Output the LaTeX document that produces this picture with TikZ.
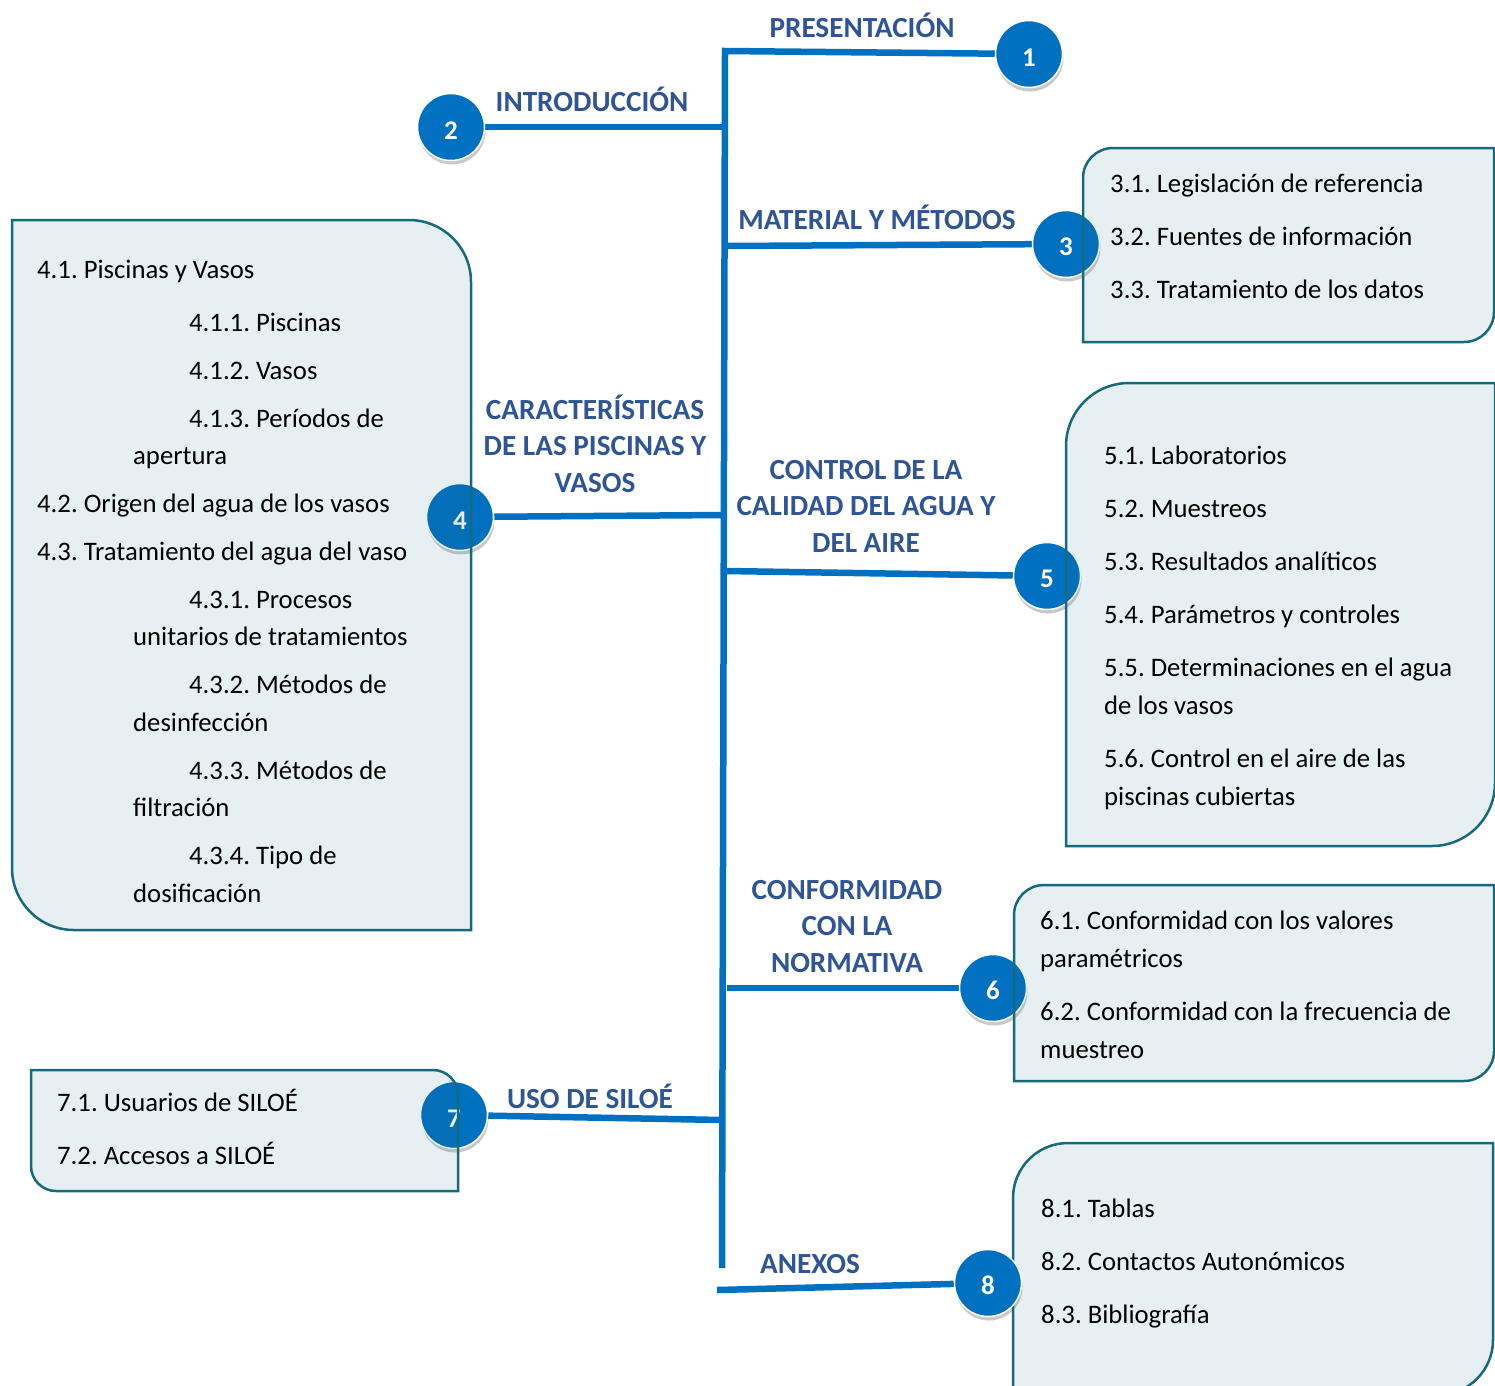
\documentclass[tikz,border=0pt]{standalone}
\usepackage{fontspec}
\setmainfont{Carlito}
\usepackage{tikz}
\usetikzlibrary{shadows, backgrounds}
\definecolor{trunkblue}{HTML}{0070C0}
\definecolor{headblue}{HTML}{2F5597}
\definecolor{boxteal}{HTML}{17697D}

% box, rounded top-left and bottom-right: style, x1, y1, x2, y2, radius
\newcommand{\boxTL}[6]{%
  \path[#1] (#2,#5) -- (#2,#3+#6) arc[start angle=180,end angle=270,radius=#6]
    -- (#4,#3) -- (#4,#5-#6) arc[start angle=0,end angle=90,radius=#6] -- cycle;}
% box, rounded top-right and bottom-left
\newcommand{\boxTR}[6]{%
  \path[#1] (#2,#3) -- (#4-#6,#3) arc[start angle=270,end angle=360,radius=#6]
    -- (#4,#5) -- (#2+#6,#5) arc[start angle=90,end angle=180,radius=#6] -- cycle;}

\begin{document}
\begin{tikzpicture}[
    x=1pt, y=-1pt,
    trunk/.style={line width=6.5pt, trunkblue},
    numcircle/.style={circle, fill=trunkblue, draw=white, line width=1.5pt, minimum size=67pt, inner sep=0pt, text=white, font=\fontsize{27}{27}\selectfont\bfseries, text height=24pt, drop shadow={shadow xshift=1pt, shadow yshift=-4pt, opacity=0.3, fill=black!70}},
    heading/.style={font=\fontsize{29.2}{36.3}\selectfont\bfseries, text=headblue, align=center, anchor=base, inner sep=0pt},
    boxline/.style={draw=boxteal, line width=2.5pt, fill=boxteal, fill opacity=0.11},
    boxtext/.style={font=\fontsize{26.7}{37.6}\selectfont\frenchspacing, align=left, anchor=base west, inner sep=0pt}
]
    \useasboundingbox (0,0) rectangle (1495,1385);

    % Box behind circle 8
    \boxTL{boxline}{1013}{1143}{1493}{1395}{55}

    % Circles
    \node[numcircle] (c1) at (1029,54) {1};
    \node[numcircle] (c2) at (451,127) {2};
    \node[numcircle] (c3) at (1066,244) {3};
    \node[numcircle] (c4) at (460,517) {4};
    \node[numcircle] (c5) at (1047,576) {5};
    \node[numcircle] (c6) at (993,988) {6};
    \node[numcircle] (c7) at (454,1115) {7};
    \node[numcircle] (c8) at (988,1283) {8};

    % Boxes
    \boxTL{boxline}{1083}{148}{1494}{342}{30}
    \boxTR{boxline}{12}{220}{471}{930}{62}
    \boxTL{boxline}{1066}{383}{1495}{846}{63}
    \boxTL{boxline}{1014}{885}{1494}{1081}{30}
    \boxTR{boxline}{31}{1070}{458}{1191}{25}

    % Trunk and branches
    \coordinate (t1) at (725,51);
    \coordinate (t2) at (724,127);
    \coordinate (t3) at (725,246);
    \coordinate (t4) at (724,515);
    \coordinate (t5) at (726,571);
    \coordinate (t6) at (727,988);
    \coordinate (t7) at (723,1120);
    \coordinate (t8) at (717,1290);
    \coordinate (tend) at (722,1268);
    \begin{scope}[on background layer]
        \draw[trunk] (c1) -- (t1) -- (tend);
        \draw[trunk] (c2) -- (t2);
        \draw[trunk] (t3) -- (c3);
        \draw[trunk] (c4) -- (t4);
        \draw[trunk] (t5) -- (c5);
        \draw[trunk] (t6) -- (c6);
        \draw[trunk] (c7) -- (t7);
        \draw[trunk] (t8) -- (c8);
    \end{scope}

    % Headings (anchor on the last line)
    \node[heading] (h1) at (862,37) {PRESENTACIÓN};
    \node[heading] (h2) at (592,111) {INTRODUCCIÓN};
    \node[heading] (h3) at (877,229) {MATERIAL Y MÉTODOS};
    \node[heading] (h4) at (595,492) {CARACTERÍSTICAS\\DE LAS PISCINAS Y\\VASOS};
    \node[heading] (h5) at (866,552) {CONTROL DE LA\\CALIDAD DEL AGUA Y\\DEL AIRE};
    \node[heading] (h6) at (847,972) {CONFORMIDAD\\CON LA\\NORMATIVA};
    \node[heading] (h7) at (590,1108) {USO DE SILOÉ};
    \node[heading] (h8) at (810,1273) {ANEXOS};

    % Box texts (anchor on the last line)
    \node[boxtext] (b3) at (1110,298) {3.1. Legislación de referencia\\[15.4pt]
        3.2. Fuentes de información\\[15.4pt]
        3.3. Tratamiento de los datos};
    \node[boxtext] (b4) at (37,902) {4.1. Piscinas y Vasos\\[16pt]
        \hspace*{152pt}4.1.1. Piscinas\\[10.2pt]
        \hspace*{152pt}4.1.2. Vasos\\[10.2pt]
        \hspace*{152pt}4.1.3. Períodos de\\
        \hspace*{96pt}apertura\\[10.2pt]
        4.2. Origen del agua de los vasos\\[10.2pt]
        4.3. Tratamiento del agua del vaso\\[10.2pt]
        \hspace*{152pt}4.3.1. Procesos\\
        \hspace*{96pt}unitarios de tratamientos\\[10.2pt]
        \hspace*{152pt}4.3.2. Métodos de\\
        \hspace*{96pt}desinfección\\[10.2pt]
        \hspace*{152pt}4.3.3. Métodos de\\
        \hspace*{96pt}filtración\\[10.2pt]
        \hspace*{152pt}4.3.4. Tipo de\\
        \hspace*{96pt}dosificación};
    \node[boxtext] (b5) at (1104,805) {5.1. Laboratorios\\[15.4pt]
        5.2. Muestreos\\[15.4pt]
        5.3. Resultados analíticos\\[15.4pt]
        5.4. Parámetros y controles\\[15.4pt]
        5.5. Determinaciones en el agua\\
        de los vasos\\[15.4pt]
        5.6. Control en el aire de las\\
        piscinas cubiertas};
    \node[boxtext] (b6) at (1040,1058) {6.1. Conformidad con los valores\\
        paramétricos\\[15.4pt]
        6.2. Conformidad con la frecuencia de\\
        muestreo};
    \node[boxtext] (b7) at (57,1164) {7.1. Usuarios de SILOÉ\\[15.4pt]
        7.2. Accesos a SILOÉ};
    \node[boxtext] (b8) at (1041,1323) {8.1. Tablas\\[15.4pt]
        8.2. Contactos Autonómicos\\[15.4pt]
        8.3. Bibliografía};
\end{tikzpicture}
\end{document}
